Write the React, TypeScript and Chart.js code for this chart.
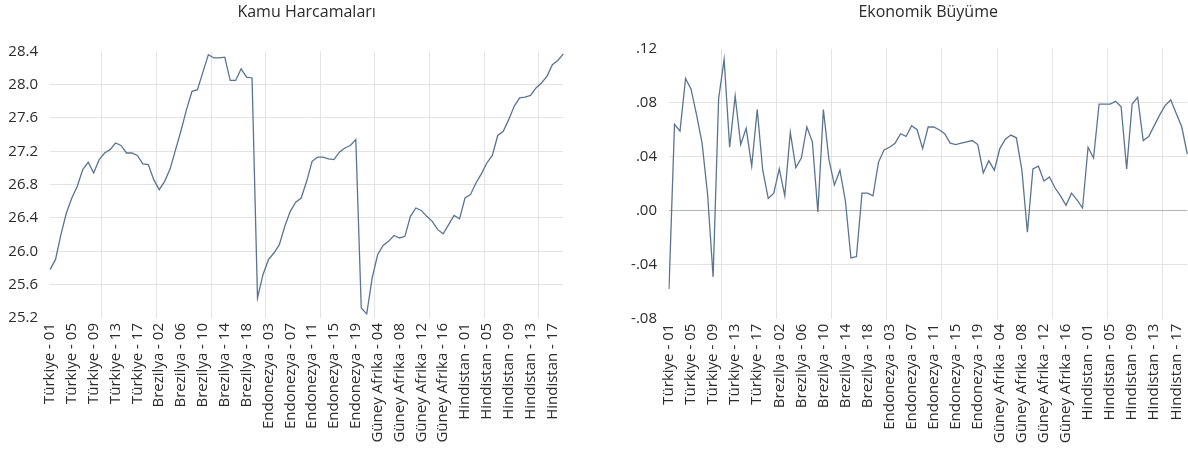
import React, { useEffect, useRef } from 'react';
import { Chart, registerables } from 'chart.js';

Chart.register(...registerables);

const countries = ['Türkiye', 'Brezilya', 'Endonezya', 'Güney Afrika', 'Hindistan'];
const periods = ['01', '02', '03', '04', '05', '06', '07', '08', '09', '10', '11', '12', '13', '14', '15', '16', '17', '18', '19'];
const categories = countries.flatMap((c) => periods.map((p) => `${c} - ${p}`));

const kamuHarcamalari = [
  25.78, 25.9, 26.2, 26.46, 26.64, 26.78, 26.98, 27.07, 26.94, 27.1,
  27.18, 27.22, 27.3, 27.27, 27.18, 27.18, 27.15, 27.05, 27.04, 26.86,
  26.74, 26.84, 26.99, 27.22, 27.45, 27.7, 27.92, 27.94, 28.15, 28.36,
  28.32, 28.32, 28.33, 28.05, 28.05, 28.19, 28.09, 28.08, 25.44, 25.72,
  25.9, 25.98, 26.08, 26.3, 26.48, 26.59, 26.64, 26.84, 27.08, 27.13,
  27.13, 27.11, 27.1, 27.19, 27.24, 27.27, 27.34, 25.32, 25.25, 25.68,
  25.96, 26.07, 26.12, 26.19, 26.16, 26.18, 26.42, 26.52, 26.49, 26.42,
  26.36, 26.26, 26.21, 26.32, 26.43, 26.39, 26.64, 26.68, 26.82, 26.93,
  27.06, 27.15, 27.39, 27.44, 27.58, 27.74, 27.84, 27.85, 27.87, 27.96,
  28.02, 28.1, 28.24, 28.29, 28.37,
];

const ekonomikBuyume = [
  -0.058, 0.064, 0.059, 0.098, 0.09, 0.071, 0.05, 0.012, -0.049, 0.083,
  0.112, 0.047, 0.085, 0.049, 0.061, 0.033, 0.075, 0.03, 0.009, 0.013,
  0.031, 0.011, 0.058, 0.032, 0.039, 0.062, 0.051, -0.001, 0.075, 0.038,
  0.019, 0.03, 0.007, -0.035, -0.034, 0.013, 0.013, 0.011, 0.036, 0.045,
  0.047, 0.05, 0.057, 0.055, 0.063, 0.06, 0.046, 0.062, 0.062, 0.06,
  0.057, 0.05, 0.049, 0.05, 0.051, 0.052, 0.049, 0.028, 0.037, 0.03,
  0.046, 0.053, 0.056, 0.054, 0.03, -0.016, 0.031, 0.033, 0.022, 0.025,
  0.017, 0.011, 0.004, 0.013, 0.008, 0.002, 0.047, 0.039, 0.079, 0.079,
  0.079, 0.081, 0.077, 0.031, 0.079, 0.084, 0.052, 0.055, 0.063, 0.071,
  0.078, 0.082, 0.072, 0.062, 0.042,
];

const kamuAxis = [25.2, 28.4, 0.4];
const buyumeAxis = [-0.08, 0.12, 0.04];

const FONT = '"Open Sans", "Noto Sans", sans-serif';
const LINE = '#5a7491';
const GRID = '#e3e3e3';
const ZERO = '#b5b5b5';
const TEXT = '#2b2b2b';
const H = 453;

const fmtKamu = (v: number) => Number(v).toFixed(1);
const fmtBuyume = (v: number) => {
  let s = Number(v).toFixed(2);
  if (s === '-0.00') s = '0.00';
  return s.replace(/^(-?)0\./, '$1.');
};

type PanelProps = {
  title: string;
  values: number[];
  axis: number[];
  fmt: (v: number) => string;
  zeroLine: boolean;
  left: number;
  width: number;
  axisWidth: number;
  plotRight: number;
  plotTop: number;
  plotBottom: number;
};

function Panel(p: PanelProps) {
  const ref = useRef<HTMLCanvasElement | null>(null);
  useEffect(() => {
    if (!ref.current) return;
    const [yMin, yMax, step] = p.axis;
    const chart = new Chart(ref.current, {
      type: 'line',
      data: {
        labels: categories,
        datasets: [
          {
            data: p.values,
            borderColor: LINE,
            borderWidth: 1.3,
            pointRadius: 0,
            pointHoverRadius: 0,
            tension: 0,
            fill: false,
          },
        ],
      },
      options: {
        animation: false,
        responsive: false,
        maintainAspectRatio: false,
        events: [],
        layout: { padding: { left: 0, top: 0, bottom: 0, right: p.width - p.plotRight } },
        plugins: {
          legend: { display: false },
          tooltip: { enabled: false },
          title: {
            display: true,
            text: p.title,
            fullSize: false,
            color: TEXT,
            font: { family: FONT, size: 16, weight: 'normal', lineHeight: 1.2 },
            padding: { top: 2.6, bottom: p.plotTop - 2.6 - 19.2 },
          },
        },
        scales: {
          x: {
            type: 'category',
            offset: false,
            border: { display: false },
            grid: {
              offset: true,
              drawTicks: false,
              lineWidth: 1,
              color: (c: any) => (c.index > 0 && c.index % 10 === 0 ? GRID : 'rgba(0,0,0,0)'),
            },
            ticks: {
              autoSkip: false,
              minRotation: 90,
              maxRotation: 90,
              padding: 5,
              color: TEXT,
              font: { family: FONT, size: 15 },
              callback: (_v: any, i: number) => (i % 4 === 0 ? categories[i] : ''),
            },
            afterFit: (s: any) => {
              s.height = H - p.plotBottom;
            },
          },
          y: {
            min: yMin,
            max: yMax,
            border: { display: false },
            grid: {
              drawTicks: false,
              lineWidth: 1,
              color: (c: any) => {
                const v = c.tick ? c.tick.value : NaN;
                if (Math.abs(v - yMin) < 1e-9 || Math.abs(v - yMax) < 1e-9) return 'rgba(0,0,0,0)';
                if (p.zeroLine && Math.abs(v) < 1e-9) return ZERO;
                return GRID;
              },
            },
            ticks: {
              stepSize: step,
              padding: 12,
              color: TEXT,
              font: { family: FONT, size: 15 },
              callback: (v: any) => p.fmt(Number(v)),
            },
            afterFit: (s: any) => {
              s.width = p.axisWidth;
            },
          },
        },
      },
    } as any);
    return () => chart.destroy();
  }, []);
  return (
    <canvas
      ref={ref}
      width={p.width}
      height={H}
      style={{ position: 'absolute', left: p.left, top: 0, width: p.width, height: H }}
    />
  );
}

export default function App() {
  return (
    <div
      style={{
        position: 'absolute',
        left: 0,
        top: 0,
        width: 1188,
        height: H,
        overflow: 'hidden',
        background: '#ffffff',
      }}
    >
      <Panel
        title="Kamu Harcamaları"
        values={kamuHarcamalari}
        axis={kamuAxis}
        fmt={fmtKamu}
        zeroLine={false}
        left={0}
        width={600}
        axisWidth={50}
        plotRight={563.3}
        plotTop={51.3}
        plotBottom={318}
      />
      <Panel
        title="Ekonomik Büyüme"
        values={ekonomikBuyume}
        axis={buyumeAxis}
        fmt={fmtBuyume}
        zeroLine={true}
        left={600}
        width={620}
        axisWidth={69}
        plotRight={587.3}
        plotTop={48.7}
        plotBottom={318.7}
      />
    </div>
  );
}
